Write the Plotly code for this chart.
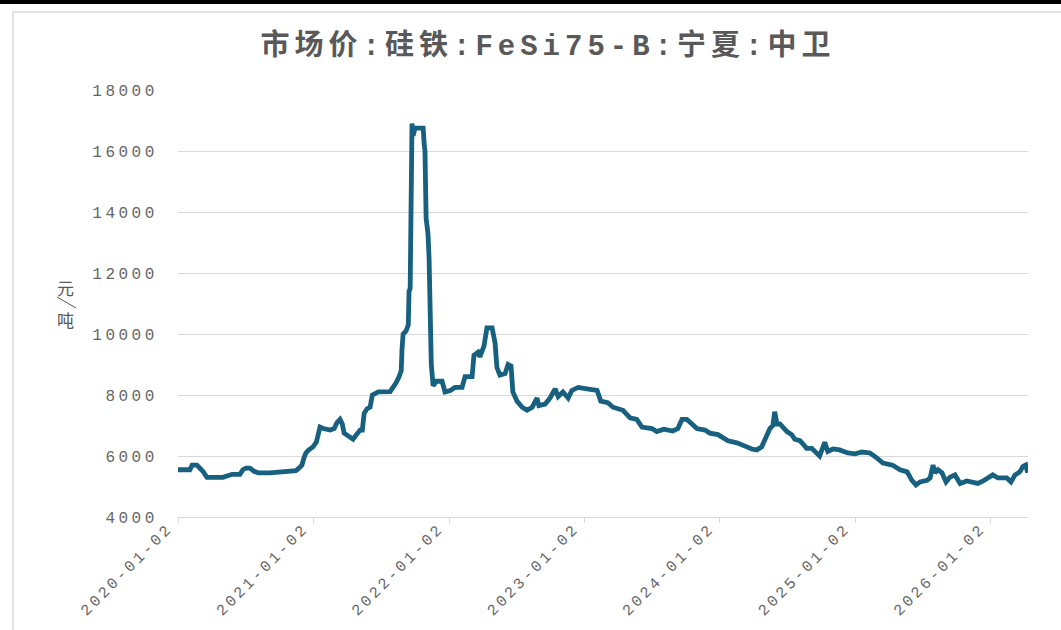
import plotly.graph_objects as go

# ---- data ----
dates = [
    "2020-01-02", "2020-02-03", "2020-02-09", "2020-02-22", "2020-03-09", "2020-03-20",
    "2020-05-02", "2020-05-13", "2020-05-27", "2020-06-17", "2020-06-25", "2020-07-03",
    "2020-07-14", "2020-07-25", "2020-08-05", "2020-09-06", "2020-10-03", "2020-10-11",
    "2020-11-15", "2020-11-23", "2020-12-01", "2020-12-07", "2020-12-12", "2020-12-20",
    "2020-12-31", "2021-01-09", "2021-01-14", "2021-01-19", "2021-01-28", "2021-02-15",
    "2021-02-26", "2021-03-06", "2021-03-14", "2021-03-20", "2021-03-25", "2021-04-08",
    "2021-04-18", "2021-04-27", "2021-05-07", "2021-05-13", "2021-05-18", "2021-05-26",
    "2021-06-03", "2021-06-09", "2021-06-19", "2021-06-25", "2021-07-27", "2021-08-04",
    "2021-08-12", "2021-08-20", "2021-08-26", "2021-08-28", "2021-08-31", "2021-09-08",
    "2021-09-14", "2021-09-16", "2021-09-19", "2021-09-24", "2021-09-27", "2021-10-02",
    "2021-10-24", "2021-10-27", "2021-10-29", "2021-11-01", "2021-11-06", "2021-11-09",
    "2021-11-11", "2021-11-12", "2021-11-15", "2021-11-20", "2021-11-28", "2021-12-14",
    "2021-12-22", "2022-01-05", "2022-01-18", "2022-02-06", "2022-02-14", "2022-03-05",
    "2022-03-10", "2022-03-21", "2022-03-26", "2022-04-06", "2022-04-14", "2022-04-28",
    "2022-05-06", "2022-05-11", "2022-05-19", "2022-06-02", "2022-06-10", "2022-06-18",
    "2022-06-23", "2022-07-04", "2022-07-18", "2022-07-31", "2022-08-14", "2022-08-27",
    "2022-09-01", "2022-09-18", "2022-10-01", "2022-10-15", "2022-10-23", "2022-11-05",
    "2022-11-19", "2022-11-29", "2022-12-16", "2023-01-09", "2023-02-05", "2023-02-15",
    "2023-03-06", "2023-03-20", "2023-04-16", "2023-05-05", "2023-05-23", "2023-06-06",
    "2023-07-03", "2023-07-16", "2023-08-04", "2023-08-28", "2023-09-11", "2023-09-22",
    "2023-10-05", "2023-10-19", "2023-11-01", "2023-11-23", "2023-12-06", "2023-12-28",
    "2024-01-10", "2024-01-24", "2024-02-17", "2024-03-01", "2024-03-15", "2024-03-28",
    "2024-04-11", "2024-04-24", "2024-04-30", "2024-05-08", "2024-05-16", "2024-05-24",
    "2024-05-29", "2024-06-04", "2024-06-12", "2024-07-01", "2024-07-14", "2024-07-22",
    "2024-08-05", "2024-08-13", "2024-08-23", "2024-09-06", "2024-09-19", "2024-09-27",
    "2024-10-11", "2024-10-19", "2024-11-02", "2024-11-20", "2024-12-12", "2025-01-01",
    "2025-01-19", "2025-02-10", "2025-03-01", "2025-03-17", "2025-04-12", "2025-05-02",
    "2025-05-21", "2025-06-03", "2025-06-14", "2025-06-25", "2025-07-14", "2025-07-22",
    "2025-07-30", "2025-08-04", "2025-08-12", "2025-08-23", "2025-09-03", "2025-09-13",
    "2025-09-27", "2025-10-11", "2025-10-29", "2025-11-15", "2025-11-28", "2025-12-12",
    "2025-12-25", "2026-01-07", "2026-01-21", "2026-02-14", "2026-02-25", "2026-03-08",
    "2026-03-21", "2026-03-29", "2026-04-06", "2026-04-11",
]
prices = [
    5550, 5550, 5700, 5700, 5500, 5300,
    5300, 5350, 5400, 5400, 5550, 5600,
    5600, 5500, 5450, 5450, 5480, 5500,
    5520, 5600, 5700, 5950, 6100, 6200,
    6300, 6450, 6800, 6950, 6900, 6850,
    6900, 7100, 7200, 7050, 6750, 6650,
    6550, 6700, 6850, 6850, 7400, 7550,
    7600, 8000, 8050, 8100, 8110, 8250,
    8400, 8600, 8800, 9500, 10000, 10100,
    10300, 11400, 11500, 16900, 16500, 16750,
    16750, 16200, 16000, 13800, 13300, 12500,
    11000, 10600, 9000, 8300, 8450, 8450,
    8100, 8150, 8250, 8250, 8600, 8600,
    9300, 9400, 9250, 9600, 10200, 10200,
    9700, 8900, 8650, 8700, 9000, 8950,
    8100, 7800, 7600, 7500, 7600, 7900,
    7650, 7700, 7900, 8200, 7950, 8100,
    7900, 8150, 8250, 8200, 8150, 7800,
    7750, 7600, 7500, 7250, 7200, 6950,
    6900, 6800, 6880, 6820, 6900, 7200,
    7200, 7050, 6900, 6850, 6750, 6700,
    6600, 6500, 6430, 6350, 6300, 6230,
    6200, 6300, 6450, 6650, 6900, 7000,
    7450, 7050, 7050, 6800, 6700, 6550,
    6500, 6400, 6250, 6250, 6100, 6000,
    6450, 6150, 6230, 6200, 6100, 6070,
    6130, 6100, 5930, 5770, 5700, 5550,
    5480, 5200, 5050, 5150, 5200, 5280,
    5700, 5450, 5550, 5450, 5150, 5300,
    5380, 5100, 5180, 5150, 5100, 5180,
    5300, 5380, 5280, 5280, 5150, 5380,
    5480, 5650, 5700, 5450,
]
y_ticks = [4000, 6000, 8000, 10000, 12000, 14000, 16000, 18000]
x_ticks = ["2020-01-02", "2021-01-02", "2022-01-02", "2023-01-02",
           "2024-01-02", "2025-01-02", "2026-01-02"]
title_text = "市场价:硅铁:FeSi75-B:宁夏:中卫"
unit_top, unit_bottom = "元", "吨"

# ---- styles ----
LINE_COLOR = "#17607f"
GRID = "#d9d9d9"
TXT = "#595959"
TICK_TXT = "#666666"
MONO = "Liberation Mono, Noto Sans CJK SC, monospace"


def spaced(s, sp):
    return f'<span style="letter-spacing:{sp}px">{s}</span>'


fig = go.Figure()
fig.add_trace(go.Scatter(
    x=dates, y=prices, mode="lines",
    line=dict(color=LINE_COLOR, width=4.8),
    showlegend=False, hoverinfo="x+y",
))

W, H = 1061, 630
L, R, T, B = 178, 33, 90, 113
pw, ph = W - L - R, H - T - B


def px_x(px):
    return (px - L) / pw


def px_y(py):
    return (H - B - py) / ph


fig.update_layout(
    width=W, height=H,
    margin=dict(l=L, r=R, t=T, b=B, autoexpand=False),
    paper_bgcolor="white", plot_bgcolor="white",
    title=dict(
        text=spaced(title_text, 5),
        x=548 / W, xanchor="center", xref="container",
        y=1 - 45 / H, yanchor="middle", yref="container",
        font=dict(family=MONO, size=29, color=TXT, weight="bold"),
    ),
    xaxis=dict(
        type="date",
        automargin=False,
        range=["2020-01-02", "2026-04-12"],
        tickvals=x_ticks,
        ticktext=[spaced(t, 3) for t in x_ticks],
        tickangle=-45,
        tickfont=dict(family=MONO, size=15.5, color=TICK_TXT),
        ticklabelshift=-10,
        ticklabelstandoff=-10,
        showgrid=False,
        showline=True, linecolor=GRID, linewidth=1.2,
        ticks="outside", ticklen=5, tickcolor=GRID, tickwidth=1.2,
        zeroline=False,
    ),
    yaxis=dict(
        automargin=False,
        range=[4000, 18000],
        tickvals=y_ticks,
        ticktext=[spaced(str(v), 3.5) for v in y_ticks],
        tickfont=dict(family=MONO, size=16, color=TICK_TXT),
        showgrid=True, gridcolor=GRID, gridwidth=1.2,
        showline=False, zeroline=False,
        ticks="outside", ticklen=16, tickcolor="rgba(0,0,0,0)",
    ),
    shapes=[
        dict(type="rect", xref="paper", yref="paper",
             x0=px_x(-10), x1=px_x(W + 10), y0=px_y(4), y1=px_y(-10),
             fillcolor="black", line=dict(width=0), layer="above"),
        dict(type="rect", xref="paper", yref="paper",
             x0=px_x(13), x1=px_x(W + 20), y0=px_y(H + 20), y1=px_y(12),
             fillcolor="rgba(0,0,0,0)", line=dict(color=GRID, width=1.5),
             layer="below"),
        dict(type="line", xref="paper", yref="paper",
             x0=px_x(57), y0=px_y(297), x1=px_x(76), y1=px_y(308),
             line=dict(color=TXT, width=1)),
    ],
    annotations=[
        dict(text=unit_top, xref="paper", yref="paper", x=px_x(66), y=px_y(287),
             showarrow=False, font=dict(family="Noto Sans CJK SC", size=17, color=TXT),
             xanchor="center", yanchor="middle"),
        dict(text=unit_bottom, xref="paper", yref="paper", x=px_x(66), y=px_y(319),
             showarrow=False, font=dict(family="Noto Sans CJK SC", size=17, color=TXT),
             xanchor="center", yanchor="middle"),
    ],
)

fig.write_html(
    "out.html",
    config={"displayModeBar": False},
    post_script="document.body.style.margin='0';",
)
